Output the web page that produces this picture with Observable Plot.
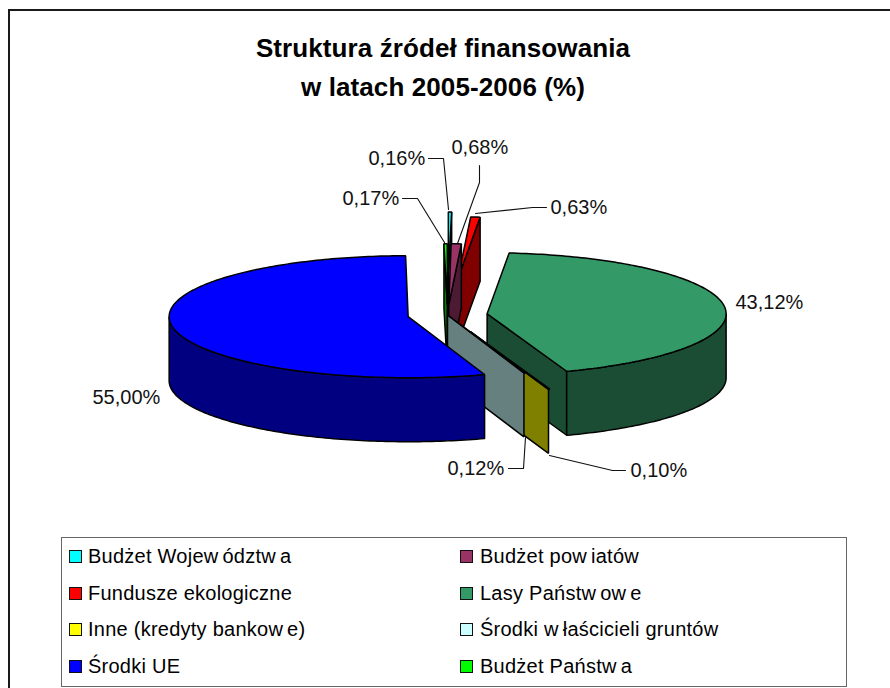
<!DOCTYPE html>
<html lang="pl">
<head>
<meta charset="utf-8">
<script src="https://cdn.jsdelivr.net/npm/d3@7"></script>
<script src="https://cdn.jsdelivr.net/npm/@observablehq/plot@0.6"></script>
<style>
  html, body { margin: 0; padding: 0; background: #fff; }
  #page { position: relative; width: 890px; height: 688px; overflow: hidden; font-family: "Liberation Sans", Arial, sans-serif; color: #000; }
  #outer { position: absolute; left: 8px; top: 9px; right: -4px; bottom: -4px; border: 2px solid #1a1a1a; }
  #title { position: absolute; left: 0; width: 886px; top: 29px; text-align: center; font-weight: bold; font-size: 26px; line-height: 39px; letter-spacing: 0.1px; }
  #chart { position: absolute; left: 0; top: 110px; }
  #chart svg { display: block; background: transparent; }
  #legend { position: absolute; left: 61px; top: 537px; width: 784px; height: 148px; border: 1.5px solid #666; box-sizing: content-box; }
  .item { position: absolute; font-size: 20px; line-height: 24px; letter-spacing: 0.25px; white-space: nowrap; }
  .swatch { position: absolute; width: 11px; height: 11px; border: 1.5px solid #111; }
  .w { margin-right: 4px; }
</style>
</head>
<body>
<div id="page">
  <div id="outer"></div>
  <div id="title">Struktura źródeł finansowania<br>w latach 2005-2006 (%)</div>
  <div id="chart"></div>
  <div id="legend"></div>
</div>
<script>
// ---- data ----
const categories = ["Budżet Województwa", "Budżet powiatów", "Fundusze ekologiczne", "Lasy Państwowe",
                    "Inne (kredyty bankowe)", "Środki właścicieli gruntów", "Środki UE", "Budżet Państwa"];
const shares = [0.16, 0.68, 0.63, 43.12, 0.10, 0.12, 55.00, 0.17];
const topColors  = ["#00FFFF", "#993366", "#FF0000", "#339966", "#FFFF00", "#CCFFFF", "#0000FF", "#00FF00"];
const wallColors = ["#008080", "#4D1A33", "#800000", "#1A4D33", "#808000", "#668080", "#000080", "#008000"];
// how far each slice is pulled out of the pie, as a fraction of the radius
const explosion = [0.69, 0.167, 0.61, 0.167, 0.29, 0, 0.167, 0.167];
// back-to-front painting order (indices into categories)
const paintOrder = [0, 2, 1, 7, 3, 4, 5, 6];
// slivers whose fill must stay visible under their outline: smallest drawn sweep, degrees
const minSweepDeg = [0.8, 0, 0, 0, 0, 0, 0, 0.8];
// 3D look
const rimDepth = 64 / 61;              // wall height in vertical radii

// ---- pixel layout of the pie inside the svg ----
const W = 890, H = 420, cx = 447, cy = 204.5, rx = 239, ry = 61;
const ux = (px) => (px - cx) / rx;
const uy = (py) => (py - 110 - cy) / ry;

// label positions (page pixels): left edge and vertical centre, by category index
const labelPos = [
  [368, 158], [451, 147], [550, 207], [735, 302],
  [630, 470], [447, 468], [92, 397], [342, 198]
];
// leader lines (page pixels), empty where the label has none
const leaderPts = [
  [[428,158],[443,158],[448,209]],
  [[479,165],[479,182],[457,243]],
  [[546,207],[532,207],[475,213]],
  [],
  [[625,470],[612,470],[549,455]],
  [[508,468],[523,468],[525,437]],
  [],
  [[402,198],[417,198],[444,242]]
];

// ---- build the slice polygons from the values ----
const total = d3.sum(shares);
const turn = 2 * Math.PI;
let acc = 0;
const slices = shares.map((v, i) => {
  const a0 = acc / total * turn; acc += v;
  const a1 = acc / total * turn;
  const mid = (a0 + a1) / 2, e = explosion[i];
  const extra = Math.max(0, minSweepDeg[i] / 360 * turn - (a1 - a0));
  // a sliver grows away from the 12 o'clock line it touches
  return {i, a0: i === 7 ? a0 - extra : a0, a1: i === 0 ? a1 + extra : a1,
          ox: e * Math.sin(mid), oy: -e * Math.cos(mid)};
});

const rows = [];
function poly(id, fill, pts) {
  for (const [x, y] of pts) rows.push({id, fill, x, y});
}
for (const k of paintOrder) {
  const s = slices[k];
  const rim = (a, z = 0) => [s.ox + Math.sin(a), s.oy - Math.cos(a) + z];
  const apex = (z = 0) => [s.ox, s.oy + z];
  const arc = (a, b, z = 0) => {
    const n = Math.max(1, Math.ceil((b - a) / (turn / 360)));
    return d3.range(n + 1).map((j) => rim(a + (b - a) * j / n, z));
  };
  // radial walls, only where they face the viewer
  if (Math.sin(s.a0) < -1e-6) poly(`${k}-w0`, wallColors[k], [apex(), rim(s.a0), rim(s.a0, rimDepth), apex(rimDepth)]);
  if (Math.sin(s.a1) > 1e-6) poly(`${k}-w1`, wallColors[k], [apex(), rim(s.a1), rim(s.a1, rimDepth), apex(rimDepth)]);
  // outer wall, only the part that faces the viewer; slivers have no visible outer wall
  const f0 = Math.max(s.a0, turn / 4), f1 = Math.min(s.a1, 3 * turn / 4);
  if (f1 - f0 > turn / 360) poly(`${k}-r`, wallColors[k], [...arc(f0, f1), ...arc(f0, f1, rimDepth).reverse()]);
  // top face
  poly(`${k}-t`, topColors[k], [apex(), ...arc(s.a0, s.a1)]);
}

const fmt = (v) => d3.format(".2f")(v).replace(".", ",") + "%";
const labels = shares.map((v, i) => ({text: fmt(v), x: ux(labelPos[i][0]), y: uy(labelPos[i][1])}));
const leaders = leaderPts.flatMap((pts, i) => pts.map(([x, y]) => ({i, x: ux(x), y: uy(y)})));

const plot = Plot.plot({
  width: W, height: H,
  margin: 0,
  style: {background: "transparent", overflow: "visible"},
  x: {domain: [-1, 1], range: [cx - rx, cx + rx], axis: null},
  y: {domain: [-1, 1], range: [cy - ry, cy + ry], axis: null},
  color: {type: "identity"},
  marks: [
    Plot.line(rows, {x: "x", y: "y", z: "id", fill: "fill", stroke: "#000", strokeWidth: 1.5,
                     strokeLinejoin: "miter", curve: "linear-closed"}),
    Plot.line(leaders, {x: "x", y: "y", z: "i", stroke: "#111", strokeWidth: 1.1}),
    Plot.text(labels, {x: "x", y: "y", text: "text", textAnchor: "start", lineAnchor: "middle",
                       fontSize: 20, fontFamily: "Liberation Sans", fill: "#111"})
  ]
});
document.getElementById("chart").appendChild(plot);

// ---- legend ----
const legend = document.getElementById("legend");
const rowsY = [18, 55, 91, 128];
categories.forEach((name, i) => {
  const col = i % 2, row = Math.floor(i / 2);
  const sw = document.createElement("div");
  sw.className = "swatch";
  sw.style.left = (col ? 398 : 7) + "px";
  sw.style.top = (rowsY[row] - 6) + "px";
  sw.style.background = topColors[i];
  legend.appendChild(sw);
  const it = document.createElement("div");
  it.className = "item";
  it.style.left = (col ? 418 : 26) + "px";
  it.style.top = (rowsY[row] - 12) + "px";
  it.innerHTML = name.replace(/w/g, '<span class="w">w</span>');
  legend.appendChild(it);
});
</script>
</body>
</html>
